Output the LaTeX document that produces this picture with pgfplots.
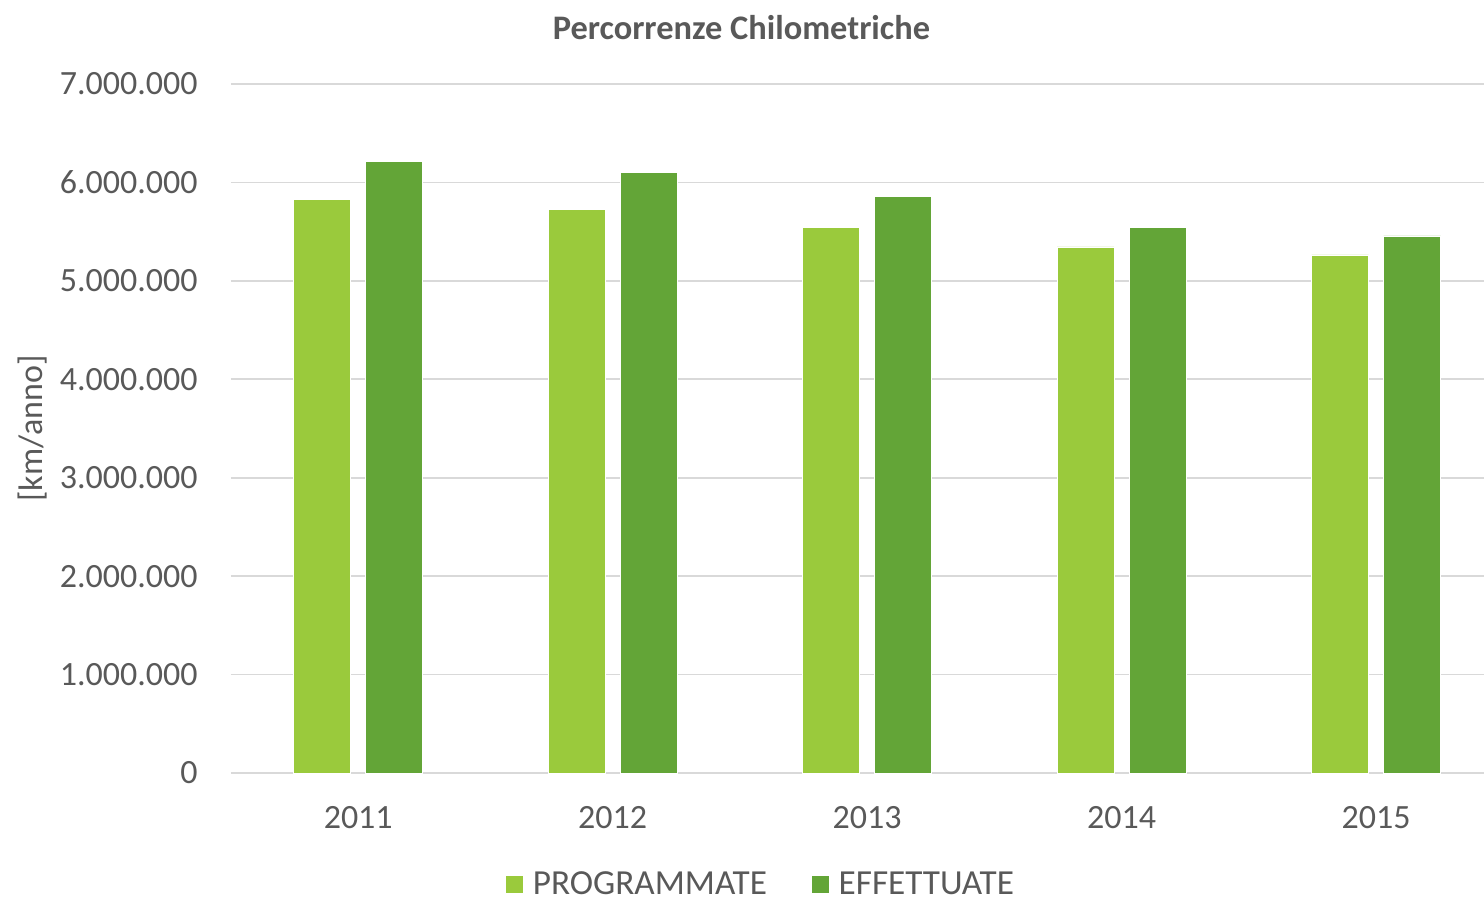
\documentclass[border=0pt]{standalone}
\usepackage{pgfplots}
\pgfplotsset{compat=1.18}
\usepackage{fontspec}
\setmainfont{Carlito}
\definecolor{txt}{HTML}{595959}
\definecolor{gridc}{HTML}{D9D9D9}
\definecolor{lg}{HTML}{9ACA3C}
\definecolor{dg}{HTML}{63A537}
\begin{document}
\begin{tikzpicture}
\useasboundingbox (-115.5pt,-63.5pt) rectangle (626.5pt,386.5pt);
\begin{axis}[
  scale only axis,
  width=626.5pt, height=344.5pt,
  xmin=-0.5, xmax=4.424,
  ymin=0, ymax=7000000,
  xtick={0,1,2,3,4},
  xticklabels={2011,2012,2013,2014,2015},
  ytick={0,1000000,2000000,3000000,4000000,5000000,6000000,7000000},
  scaled y ticks=false,
  /pgf/number format/.cd, fixed, precision=0, 1000 sep={.}, min exponent for 1000 sep=0, assume math mode=true,
  /pgfplots/.cd,
  ymajorgrids,
  grid style={color=gridc, line width=0.8pt},
  axis line style={draw=none},
  tick style={draw=none},
  yticklabel style={font=\fontsize{17}{20}\selectfont, text=txt, anchor=east, inner sep=0pt, xshift=-16.5pt},
  xticklabel style={font=\fontsize{17}{20}\selectfont, text=txt, anchor=north, inner sep=0pt, yshift=-16.5pt},
  ylabel={[km/anno]},
  ylabel style={font=\fontsize{17}{20}\selectfont, text=txt, at={(axis description cs:-0.158,0.5)}, anchor=center, rotate=0},
  title={\bfseries Percorrenze Chilometriche},
  title style={font=\fontsize{17.2}{20}\selectfont, text=txt, at={(axis description cs:0.4074,1.065)}, anchor=center},
  legend style={at={(axis description cs:0.4218,-0.1615)}, anchor=center, draw=none, fill=none,
    font=\fontsize{17.6}{20}\selectfont, text=txt, legend columns=2, inner sep=0pt,
    nodes={inner xsep=0pt, inner ysep=0pt},
    /tikz/every odd column/.append style={column sep=4.5pt},
    /tikz/every even column/.append style={column sep=22pt}},
  legend image code/.code={\fill[#1] (0pt,-4.5pt) rectangle (9pt,4.5pt);},
  clip=false,
]
\addplot[ybar, bar width=28.5pt, bar shift=-18pt, fill=lg, draw=white, line width=0.4pt]
  coordinates {(0,5829000) (1,5727000) (2,5544000) (3,5344000) (4,5263000)};
\addlegendentry{PROGRAMMATE}
\addplot[ybar, bar width=28.5pt, bar shift=18pt, fill=dg, draw=white, line width=0.4pt]
  coordinates {(0,6215000) (1,6103000) (2,5862000) (3,5544000) (4,5456000)};
\addlegendentry{EFFETTUATE}
\end{axis}
\end{tikzpicture}
\end{document}
